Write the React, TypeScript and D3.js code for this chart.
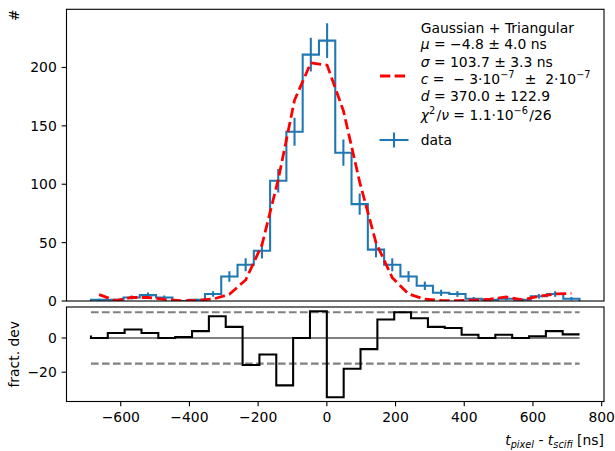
import React from 'react';
import * as d3 from 'd3';

// ---- data ----
const counts = [1, 1, 3, 5, 3, 0, 1, 6, 21, 31, 43, 103, 145, 211, 223, 127, 83, 44, 31, 21, 13, 7, 6, 2, 1, 2, 1, 4, 6, 2];
const fitValues = [5.5, 0.3, 3, 3, 1.4, 0.3, 0.6, 1.7, 5.7, 18, 48, 104, 172, 204, 202, 163, 102, 50, 20, 6, 1.5, 0.5, 0.3, 0.8, 1.5, 3.5, 1, 4, 6, 6.6];
const fractDev = [1.5, 0, 2.9, 5, 2.9, 0, 0.6, 4, 12.7, 6.5, -15.8, -9.6, -27.7, 0, 15.6, -34.6, -18, -6.5, 10.8, 15, 11.5, 6.5, 5.8, 1.9, 0, 1.9, 0, 1, 4, 2.1];
const binLow = -686.8;
const binHigh = 735.7;
const devBand = 15;
const xTicks = [-600, -400, -200, 0, 200, 400, 600, 800];
const yTicksTop = [0, 50, 100, 150, 200];
const yTicksDev = [-20, 0];

// ---- layout ----
const W = 615, H = 451;
const L = 66.5, R = 604;
const topT = 9.3, topB = 301;
const devT = 307, devB = 401.5;
const FONT = 'DejaVu Sans';
const FS = 13.9;
const BLUE = '#1f77b4';
const TICK = 4.86;
const PAD = 4.86;
const NB = '\u00A0';

const nBins = counts.length;
const binW = (binHigh - binLow) / nBins;
const edges = d3.range(nBins + 1).map((i) => binLow + i * binW);
const centers = d3.range(nBins).map((i) => binLow + (i + 0.5) * binW);
const devX = d3.range(fractDev.length).map((i) => binLow + (i * (binHigh - binLow)) / (fractDev.length - 1));

const xr = binHigh - binLow;
const x = d3.scaleLinear().domain([binLow - 0.05 * xr, binHigh + 0.05 * xr]).range([L, R]);

const topMax = d3.max(counts, (c) => c + Math.sqrt(c)) as number;
const yTop = d3.scaleLinear().domain([0, topMax * 1.05]).range([topB, topT]);

const devLo = Math.min(d3.min(fractDev) as number, -devBand);
const devHi = Math.max(d3.max(fractDev) as number, devBand);
const devR = devHi - devLo;
const yDev = d3.scaleLinear().domain([devLo - 0.05 * devR, devHi + 0.05 * devR]).range([devB, devT]);

const histPts: [number, number][] = [
  [edges[0], 0],
  ...counts.map((c, i) => [edges[i], c] as [number, number]),
  [edges[nBins], counts[nBins - 1]],
  [edges[nBins], 0],
];
const histPath = d3
  .line<[number, number]>()
  .x((d) => x(d[0]))
  .y((d) => yTop(d[1]))
  .curve(d3.curveStepAfter)(histPts) as string;

const fitPath = d3
  .line<number>()
  .x((_, i) => x(centers[i]))
  .y((d) => yTop(d))(fitValues) as string;

const devPath = d3
  .line<number>()
  .x((_, i) => x(devX[i]))
  .y((d) => yDev(d))
  .curve(d3.curveStepBefore)(fractDev) as string;

const SUP = FS * 0.7;
const SUPDY = 5.6;

function Sup({ children }: { children: string }) {
  return (
    <>
      <tspan fontSize={SUP} dy={-SUPDY}>{children}</tspan>
      <tspan dy={SUPDY}>{'\u200A'}</tspan>
    </>
  );
}

export default function App() {
  const legX = 420.7;
  return (
    <svg width={W} height={H} style={{ display: 'block', position: 'absolute', left: 0, top: 0 }} fontFamily={FONT}>
      <rect x={0} y={0} width={W} height={H} fill="white" />
      <defs>
        <clipPath id="clipTop">
          <rect x={L} y={topT} width={R - L} height={topB - topT} />
        </clipPath>
        <clipPath id="clipDev">
          <rect x={L} y={devT} width={R - L} height={devB - devT} />
        </clipPath>
      </defs>

      {/* ---- top panel ---- */}
      <g clipPath="url(#clipTop)">
        <path d={histPath} fill="none" stroke={BLUE} strokeWidth={2.08} strokeLinejoin="miter" />
        {counts.map((c, i) =>
          c > 0 ? (
            <line
              key={i}
              x1={x(centers[i])}
              x2={x(centers[i])}
              y1={yTop(c - Math.sqrt(c))}
              y2={yTop(c + Math.sqrt(c))}
              stroke={BLUE}
              strokeWidth={2.08}
            />
          ) : null
        )}
        <path d={fitPath} fill="none" stroke="#ff0000" strokeWidth={2.78} strokeDasharray="10.3 4.4" />
      </g>
      <rect x={L} y={topT} width={R - L} height={topB - topT} fill="none" stroke="black" strokeWidth={1.11} />
      {yTicksTop.map((t) => (
        <g key={t}>
          <line x1={L - TICK} x2={L} y1={yTop(t)} y2={yTop(t)} stroke="black" strokeWidth={1.11} />
          <text x={L - TICK - PAD} y={yTop(t)} dy="0.36em" textAnchor="end" fontSize={FS}>
            {t}
          </text>
        </g>
      ))}
      <text transform={`translate(19, ${topT}) rotate(-90)`} textAnchor="end" fontSize={FS}>
        #
      </text>

      {/* legend */}
      <line x1={380} x2={407.8} y1={76} y2={76} stroke="#ff0000" strokeWidth={2.78} strokeDasharray="10.3 4.4" />
      <text x={legX} y={33.3} fontSize={FS}>Gaussian + Triangular</text>
      <text x={legX} y={49.3} fontSize={FS}>
        <tspan fontStyle="italic">μ</tspan>{` = −4.8 ± 4.0 ns`}
      </text>
      <text x={legX} y={66.7} fontSize={FS}>
        <tspan fontStyle="italic">σ</tspan>{` = 103.7 ± 3.3 ns`}
      </text>
      <text x={legX} y={84} fontSize={FS}>
        <tspan fontStyle="italic">c</tspan>
        {`${NB}=${NB}${NB}−${NB}3·10`}
        <Sup>−7</Sup>
        {`${NB}${NB}±${NB}${NB}2·10`}
        <Sup>−7</Sup>
      </text>
      <text x={legX} y={101} fontSize={FS}>
        <tspan fontStyle="italic">d</tspan>{`${NB}=${NB}370.0${NB}±${NB}122.9`}
      </text>
      <text x={legX} y={120} fontSize={FS}>
        <tspan fontStyle="italic">χ</tspan>
        <Sup>2</Sup>/<tspan fontStyle="italic">ν</tspan>{` = 1.1·10`}<Sup>−6</Sup>/26
      </text>
      <line x1={379.5} x2={408.5} y1={140} y2={140} stroke={BLUE} strokeWidth={2.08} />
      <line x1={394} x2={394} y1={132.5} y2={147.5} stroke={BLUE} strokeWidth={2.08} />
      <text x={legX} y={144.5} fontSize={FS}>data</text>

      {/* ---- deviation panel ---- */}
      <g clipPath="url(#clipDev)">
        <line x1={x(binLow)} x2={x(binHigh)} y1={yDev(0)} y2={yDev(0)} stroke="#808080" strokeWidth={2.08} />
        <line x1={x(binLow)} x2={x(binHigh)} y1={yDev(devBand)} y2={yDev(devBand)} stroke="#808080" strokeWidth={2.08} strokeDasharray="7.7 3.3" />
        <line x1={x(binLow)} x2={x(binHigh)} y1={yDev(-devBand)} y2={yDev(-devBand)} stroke="#808080" strokeWidth={2.08} strokeDasharray="7.7 3.3" />
        <path d={devPath} fill="none" stroke="black" strokeWidth={2.08} />
      </g>
      <rect x={L} y={devT} width={R - L} height={devB - devT} fill="none" stroke="black" strokeWidth={1.11} />
      {yTicksDev.map((t) => (
        <g key={t}>
          <line x1={L - TICK} x2={L} y1={yDev(t)} y2={yDev(t)} stroke="black" strokeWidth={1.11} />
          <text x={L - TICK - PAD} y={yDev(t)} dy="0.36em" textAnchor="end" fontSize={FS}>
            {t < 0 ? `−${Math.abs(t)}` : t}
          </text>
        </g>
      ))}
      {xTicks.map((t) => (
        <g key={t}>
          <line x1={x(t)} x2={x(t)} y1={devB} y2={devB + TICK} stroke="black" strokeWidth={1.11} />
          <text x={x(t)} y={devB + TICK + PAD} dy="0.76em" textAnchor="middle" fontSize={FS}>
            {t < 0 ? `−${Math.abs(t)}` : t}
          </text>
        </g>
      ))}
      <text transform={`translate(19, ${(devT + devB) / 2}) rotate(-90)`} textAnchor="middle" fontSize={FS}>
        fract. dev
      </text>
      <text x={R} y={445} textAnchor="end" fontSize={FS}>
        <tspan fontStyle="italic">t</tspan>
        <tspan fontStyle="italic" fontSize={SUP} dy={2.6}>pixel</tspan>
        <tspan dy={-2.6}> - </tspan>
        <tspan fontStyle="italic">t</tspan>
        <tspan fontStyle="italic" fontSize={SUP} dy={2.6}>scifi</tspan>
        <tspan dy={-2.6}> [ns]</tspan>
      </text>
    </svg>
  );
}
